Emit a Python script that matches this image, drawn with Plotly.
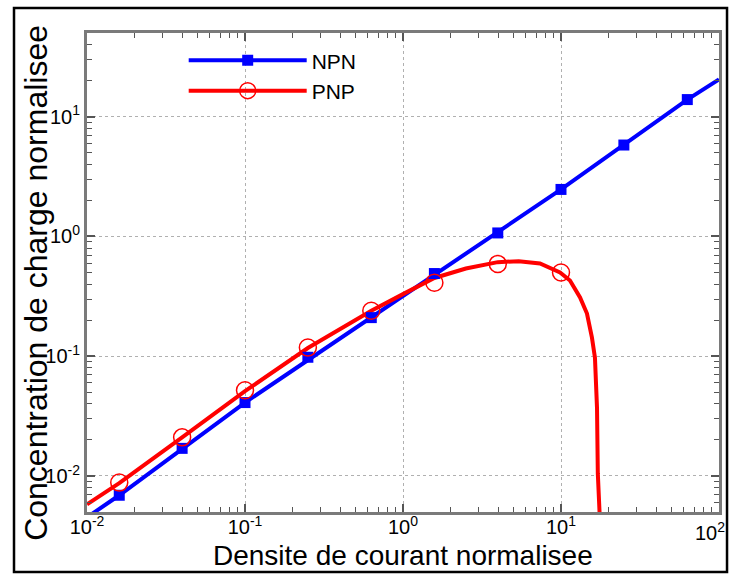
import plotly.graph_objects as go

# ---- data ----
x_markers = [0.016, 0.04, 0.1, 0.25, 0.63, 1.58, 3.98, 10.0, 25.0, 63.0]
npn_markers = [0.0069, 0.017, 0.041, 0.098, 0.21, 0.49, 1.07, 2.47, 5.8, 13.9]
pnp_marker_x = [0.016, 0.04, 0.1, 0.25, 0.63, 1.58, 3.98, 10.0]
pnp_markers = [0.0088, 0.021, 0.052, 0.118, 0.24, 0.41, 0.59, 0.50]

npn_line_x = [0.009, 0.016, 0.1, 1.0, 10.0, 63.0, 100.0]
npn_line_y = [0.0041, 0.0069, 0.041, 0.32, 2.47, 13.9, 20.5]

pnp_line_x = [0.01, 0.016, 0.04, 0.1, 0.25, 0.63, 1.0, 1.58, 2.5, 3.98, 5.4,
              7.36, 9.86, 11.4, 13.2, 14.6, 15.7, 16.4, 16.9, 17.1, 17.6]
pnp_line_y = [0.0058, 0.0087, 0.021, 0.051, 0.117, 0.24, 0.33, 0.45, 0.54, 0.61, 0.621,
              0.594, 0.50, 0.429, 0.309, 0.227, 0.143, 0.097, 0.037, 0.0105, 0.0045]

xtick_vals = [0.01, 0.1, 1, 10, 100]
xtick_text = ["10<sup>-2</sup>", "10<sup>-1</sup>", "10<sup>0</sup>", "10<sup>1</sup>", "10<sup>2</sup>"]
ytick_vals = [0.01, 0.1, 1, 10]
ytick_text = ["10<sup>-2</sup>", "10<sup>-1</sup>", "10<sup>0</sup>", "10<sup>1</sup>"]

x_title = "Densite de courant normalisee"
y_title = "Concentration de charge normalisee"

x_minor = [m * 10.0 ** d for d in range(-2, 2) for m in range(2, 10)]
y_minor = [m * 10.0 ** d for d in range(-3, 2) for m in range(2, 10)]

BLUE = "#0000ff"
RED = "#ff0000"
FONT = "Liberation Sans, Arial"

fig = go.Figure()

fig.add_trace(go.Scatter(x=npn_line_x, y=npn_line_y, mode="lines",
                         line=dict(color=BLUE, width=4), showlegend=False, hoverinfo="skip"))
fig.add_trace(go.Scatter(x=pnp_line_x, y=pnp_line_y, mode="lines",
                         line=dict(color=RED, width=4), showlegend=False, hoverinfo="skip"))
fig.add_trace(go.Scatter(x=x_markers, y=npn_markers, mode="markers",
                         marker=dict(symbol="square", size=11, color=BLUE),
                         showlegend=False))
fig.add_trace(go.Scatter(x=pnp_marker_x, y=pnp_markers, mode="markers",
                         marker=dict(symbol="circle-open", size=17, color=RED,
                                     line=dict(width=1.5, color=RED)),
                         showlegend=False))

# legend entries
fig.add_trace(go.Scatter(x=[None], y=[None], mode="lines+markers", name="NPN",
                         line=dict(color=BLUE, width=4),
                         marker=dict(symbol="square", size=11, color=BLUE)))
fig.add_trace(go.Scatter(x=[None], y=[None], mode="lines+markers", name="PNP",
                         line=dict(color=RED, width=4),
                         marker=dict(symbol="circle-open", size=17, color=RED,
                                     line=dict(width=1.5, color=RED))))

axis_common = dict(
    type="log", automargin=False,
    showline=True, linecolor="#7a7a7a", linewidth=3, mirror="ticks",
    ticks="inside", ticklen=8, tickwidth=2, tickcolor="#555555",
    showgrid=True, gridcolor="#b0b0b0", gridwidth=1, griddash="dot",
    zeroline=False,
    tickfont=dict(family=FONT, size=20, color="#000000"),
)

fig.update_xaxes(range=[-2, 2], tickmode="array", tickvals=xtick_vals, ticktext=xtick_text,
                 ticklabelstandoff=-5,
                 minor=dict(tickmode="array", tickvals=x_minor, ticks="inside", ticklen=5,
                            tickwidth=1, tickcolor="#555555", showgrid=False),
                 **axis_common)
fig.update_yaxes(range=[-2.301, 1.699], tickmode="array", tickvals=ytick_vals, ticktext=ytick_text,
                 minor=dict(tickmode="array", tickvals=y_minor, ticks="inside", ticklen=5,
                            tickwidth=1, tickcolor="#555555", showgrid=False),
                 **axis_common)

fig.update_layout(
    width=730, height=576,
    margin=dict(l=87, r=11, t=33, b=64),
    paper_bgcolor="white", plot_bgcolor="white",
    font=dict(family=FONT, color="#000000"),
    legend=dict(x=0.153, y=0.985, xanchor="left", yanchor="top",
                bgcolor="rgba(0,0,0,0)", borderwidth=0,
                font=dict(family=FONT, size=21, color="#000000"),
                itemwidth=118, tracegroupgap=0),
    annotations=[
        dict(text=x_title, xref="paper", yref="paper", x=0.5, y=-0.09,
             xanchor="center", yanchor="middle", showarrow=False,
             font=dict(family=FONT, size=28, color="#000000")),
        dict(text=y_title, xref="paper", yref="paper", x=-0.081, y=0.478,
             xanchor="center", yanchor="middle", showarrow=False, textangle=-90,
             font=dict(family=FONT, size=32, color="#000000")),
        # last x tick label (partly hidden at the frame edge in the reference)
        dict(text=xtick_text[-1], xref="paper", yref="paper", x=1.0127, y=-0.01,
             xanchor="right", yanchor="top", showarrow=False,
             font=dict(family=FONT, size=20, color="#000000")),
    ],
    shapes=[dict(type="rect", xref="paper", yref="paper",
                 x0=-0.1155, x1=1.0127, y0=-0.125, y1=1.052,
                 line=dict(color="#000000", width=2.5), fillcolor="rgba(0,0,0,0)", layer="below")],
)

fig.write_html("out.html", config={"displayModeBar": False},
               post_script="document.body.style.margin='0';")
